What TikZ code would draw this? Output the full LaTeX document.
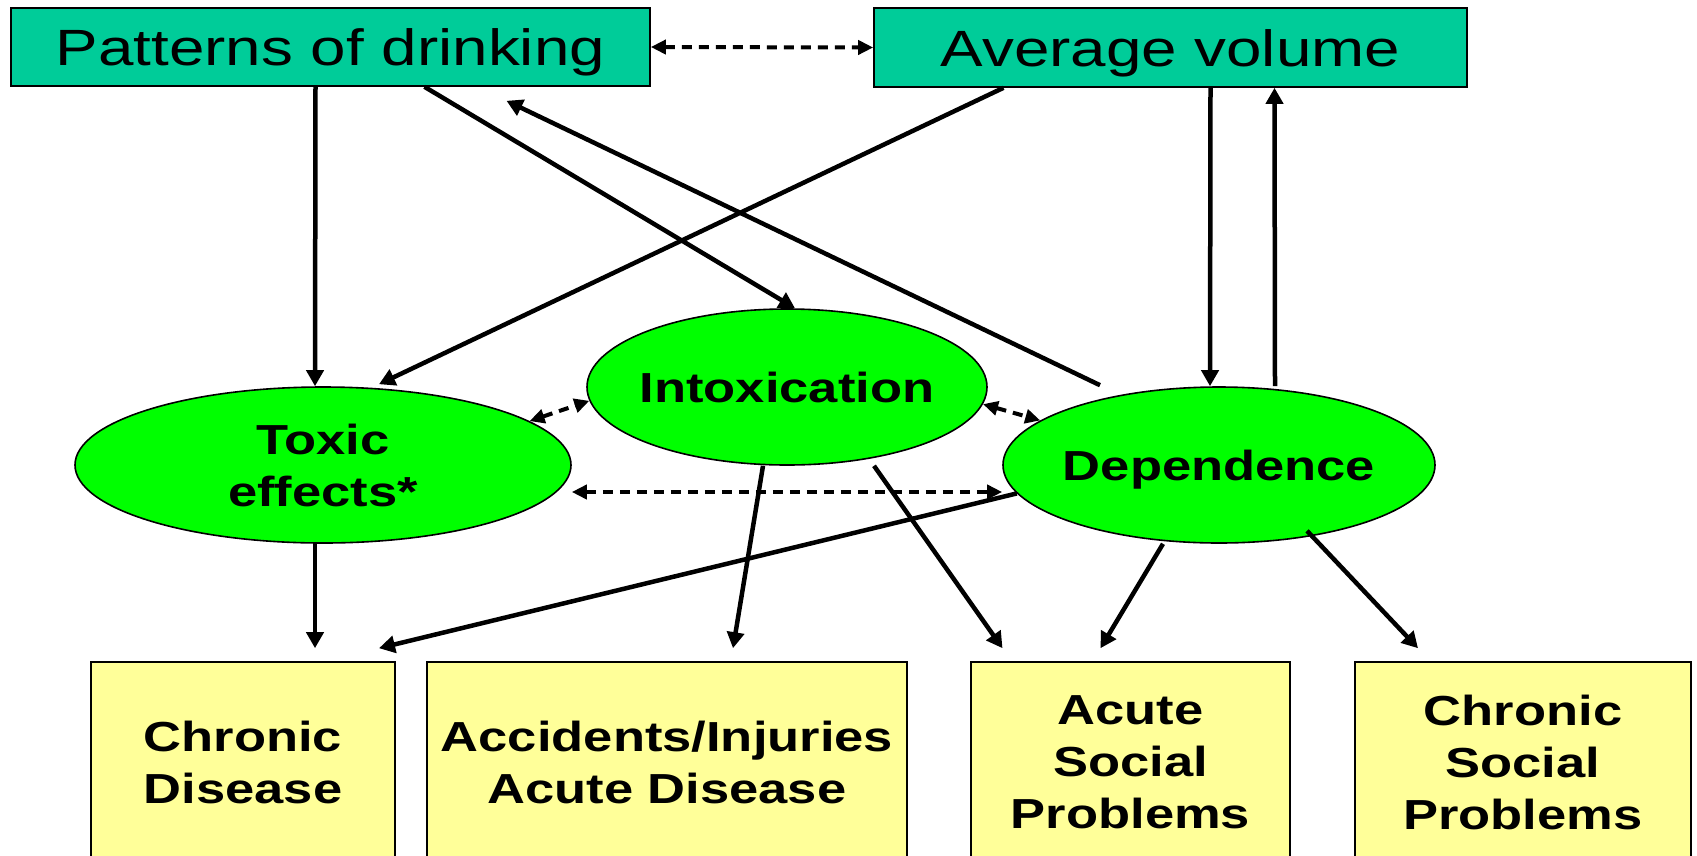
\documentclass[tikz,border=0pt]{standalone}
\usepackage{fontspec}
\setmainfont{Liberation Sans}[FakeStretch=1.25]
\usepackage{xcolor}
\usepackage{tikz}
\usetikzlibrary{arrows.meta}
\usetikzlibrary{shapes.geometric}

\definecolor{boxteal}{RGB}{0,204,153}
\definecolor{blobgreen}{RGB}{0,255,0}
\definecolor{boxyellow}{RGB}{255,255,153}

\begin{document}
\begin{tikzpicture}[x=1pt, y=-1pt,
	topbox/.style={rectangle, draw=black, line width=1.6pt, fill=boxteal, inner sep=0pt, font=\fontsize{51}{60}\selectfont, text height=37pt, text depth=0pt},
	blob/.style={ellipse, draw=black, line width=1.6pt, fill=blobgreen, inner sep=-25pt, minimum height=156pt, align=center, font=\fontsize{42}{52}\selectfont\bfseries},
	outbox/.style={rectangle, draw=black, line width=1.6pt, fill=boxyellow, inner sep=0pt, minimum height=200pt, align=center, font=\fontsize{42}{52}\selectfont\bfseries},
	arr/.style={-{Triangle[length=16pt,width=17pt]}, line width=4.5pt},
	darr/.style={{Triangle[length=15pt,width=14pt]}-{Triangle[length=15pt,width=14pt]}, line width=4pt, dash pattern=on 10pt off 7pt}]
	\useasboundingbox (0,0) rectangle (1697,855);
	% sources
	\node[topbox, minimum width=639pt, minimum height=78pt] (pat) at (330.5,47) {Patterns of drinking};
	\node[topbox, minimum width=593pt, minimum height=79pt] (avg) at (1170.5,47.5) {Average volume};
	% mechanisms
	\node[blob, minimum width=496pt] (tox) at (323,465) {Toxic\\effects*};
	\node[blob, minimum width=400pt, text depth=0pt] (int) at (787,387) {Intoxication};
	\node[blob, minimum width=432pt, text depth=0pt] (dep) at (1219,465) {Dependence};
	% outcomes
	\node[outbox, minimum width=304pt] (cd) at (243,762) {Chronic\\Disease};
	\node[outbox, minimum width=480pt] (acc) at (667,762) {Accidents/Injuries\\Acute Disease};
	\node[outbox, minimum width=319pt] (asp) at (1130.5,762) {Acute\\Social\\Problems};
	\node[outbox, minimum width=336pt] (csp) at (1523,762) {Chronic\\Social\\Problems};
	\draw[darr] (pat.east) -- (avg.west);
	\draw[arr] ([xshift=-15pt]pat.south) -- ([xshift=-8pt]tox.north);
	\draw[arr] ([xshift=94pt]pat.south) -- ([xshift=8pt]int.north);
	\draw[arr] ([xshift=-167pt]avg.south) -- ([xshift=56pt,yshift=2pt]tox.north);
	\draw[arr] ([xshift=-119pt,yshift=1pt]dep.north) -- ([xshift=176pt,yshift=-14pt]pat.south);
	\draw[arr] ([xshift=40pt]avg.south) -- ([xshift=-9pt]dep.north);
	\draw[arr] ([xshift=56pt]dep.north) -- ([xshift=104pt]avg.south);
	\draw[darr] (tox.12) -- (int.184);
	\draw[darr] (int.355) -- (dep.166);
	\draw[darr] ([yshift=-27pt]tox.east) -- ([yshift=-27pt]dep.west);
	\draw[arr] ([xshift=-8pt]tox.south) -- ([xshift=72pt,yshift=13pt]cd.north);
	\draw[arr] (dep.188) -- ([xshift=136pt,yshift=13pt]cd.north);
	\draw[arr] ([xshift=-24pt]int.south) -- ([xshift=66pt,yshift=13pt]acc.north);
	\draw[arr] ([xshift=87pt]int.south) -- ([xshift=-128pt,yshift=13pt]asp.north);
	\draw[arr] ([xshift=-56pt]dep.south) -- ([xshift=-30pt,yshift=13pt]asp.north);
	\draw[arr] ([xshift=88pt,yshift=13pt]dep.south) -- ([xshift=-105pt,yshift=13pt]csp.north);
\end{tikzpicture}
\end{document}
